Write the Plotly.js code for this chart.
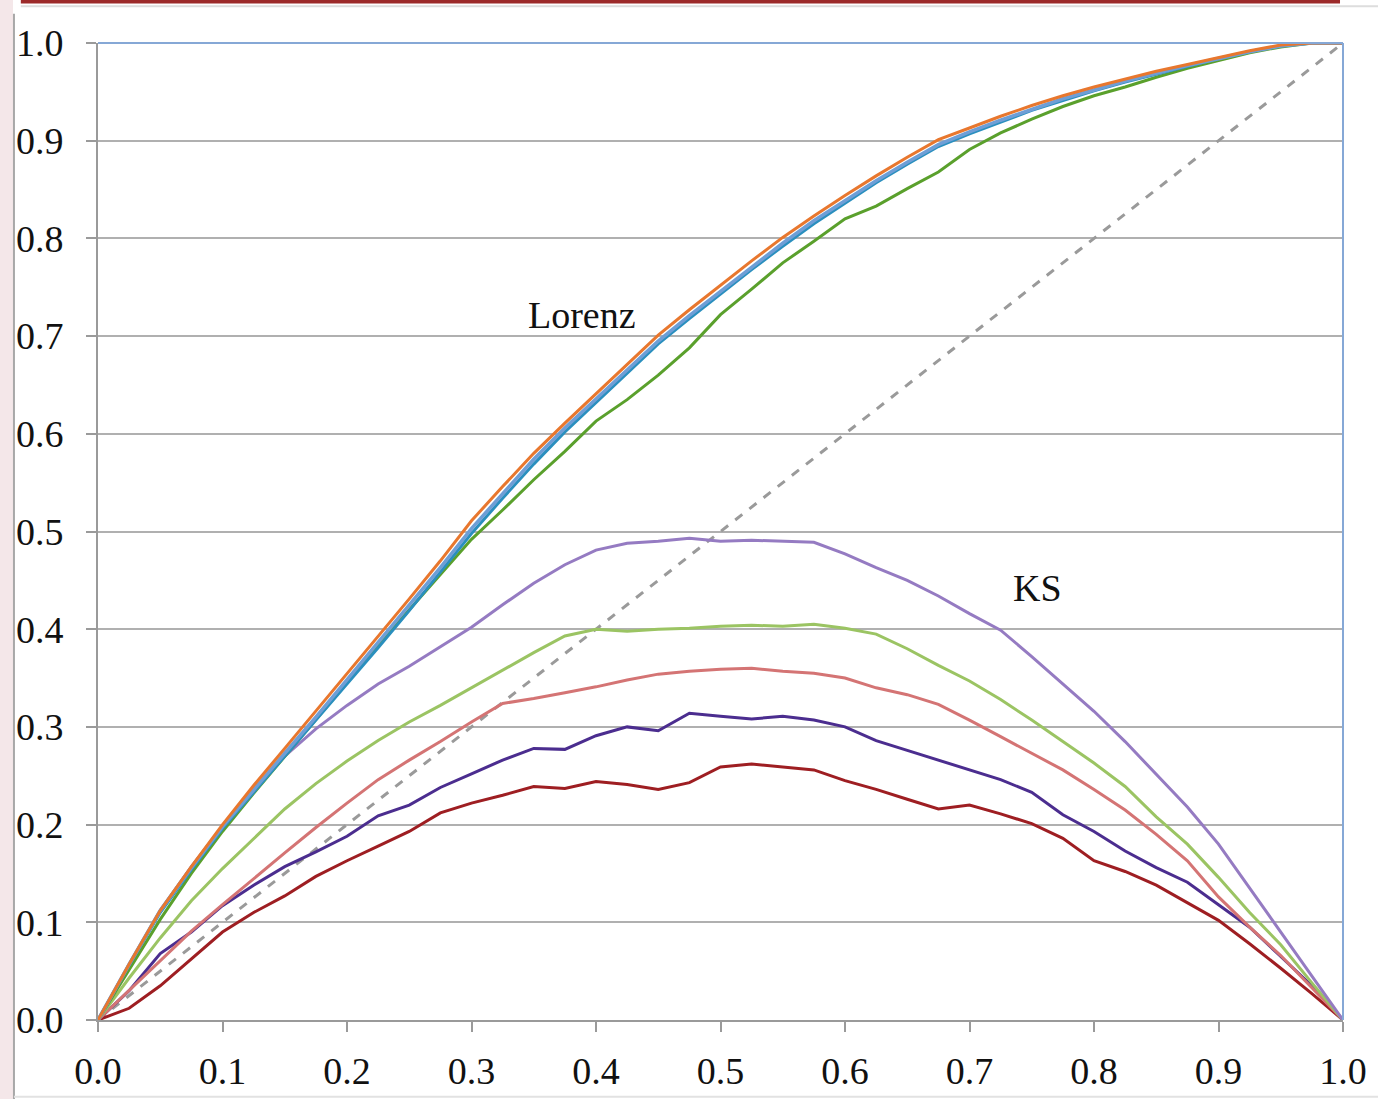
<!DOCTYPE html>
<html>
<head>
<meta charset="utf-8">
<script src="https://cdn.plot.ly/plotly-3.0.1.min.js"></script>
<style>
html,body{margin:0;padding:0;background:#fff;}
#chart{width:1378px;height:1099px;}
</style>
</head>
<body>
<div id="chart"></div>
<script>
// x grid shared by all curves
const xs = [0,0.025,0.05,0.075,0.1,0.125,0.15,0.175,0.2,0.225,0.25,0.275,0.3,0.325,0.35,0.375,0.4,0.425,0.45,0.475,0.5,0.525,0.55,0.575,0.6,0.625,0.65,0.675,0.7,0.725,0.75,0.775,0.8,0.825,0.85,0.875,0.9,0.925,0.95,0.975,1.0];

// Lorenz curves
const lorenzOrange = [0,0.057,0.112,0.157,0.200,0.240,0.278,0.316,0.355,0.393,0.431,0.470,0.511,0.546,0.580,0.611,0.641,0.671,0.701,0.727,0.752,0.777,0.801,0.823,0.844,0.864,0.883,0.901,0.913,0.925,0.936,0.946,0.955,0.963,0.971,0.978,0.985,0.992,0.998,1.0,1.0];
const lorenzBlue   = [0,0.057,0.112,0.156,0.198,0.236,0.273,0.310,0.348,0.386,0.424,0.463,0.503,0.539,0.574,0.606,0.636,0.666,0.695,0.721,0.746,0.771,0.795,0.818,0.839,0.859,0.878,0.896,0.909,0.921,0.932,0.943,0.952,0.961,0.969,0.977,0.984,0.991,0.997,1.0,1.0];
const lorenzTeal   = [0,0.056,0.110,0.154,0.196,0.233,0.269,0.306,0.344,0.381,0.419,0.458,0.498,0.534,0.569,0.602,0.632,0.663,0.692,0.718,0.743,0.768,0.792,0.815,0.836,0.857,0.876,0.894,0.907,0.919,0.931,0.941,0.951,0.960,0.968,0.976,0.984,0.991,0.997,1.0,1.0];
const lorenzGreen  = [0,0.052,0.103,0.150,0.193,0.232,0.270,0.307,0.345,0.383,0.420,0.456,0.492,0.522,0.553,0.582,0.613,0.635,0.660,0.688,0.722,0.748,0.775,0.797,0.820,0.833,0.851,0.868,0.891,0.908,0.922,0.935,0.946,0.955,0.965,0.974,0.982,0.990,0.996,1.0,1.0];

// KS curves
const ksPurple = [0,0.057,0.112,0.157,0.198,0.236,0.270,0.298,0.322,0.344,0.362,0.382,0.402,0.425,0.447,0.466,0.481,0.488,0.490,0.493,0.490,0.491,0.490,0.489,0.477,0.463,0.450,0.434,0.416,0.399,0.372,0.344,0.316,0.285,0.252,0.218,0.180,0.135,0.090,0.045,0];
const ksGreen  = [0,0.043,0.084,0.122,0.155,0.186,0.216,0.242,0.265,0.286,0.305,0.322,0.340,0.358,0.376,0.393,0.400,0.398,0.400,0.401,0.403,0.404,0.403,0.405,0.401,0.395,0.380,0.363,0.347,0.328,0.307,0.285,0.263,0.239,0.208,0.180,0.146,0.110,0.077,0.038,0];
const ksPink   = [0,0.030,0.060,0.091,0.118,0.145,0.171,0.197,0.222,0.246,0.266,0.285,0.305,0.324,0.329,0.335,0.341,0.348,0.354,0.357,0.359,0.360,0.357,0.355,0.350,0.340,0.333,0.323,0.307,0.290,0.273,0.256,0.236,0.215,0.190,0.163,0.126,0.095,0.066,0.033,0];
const ksIndigo = [0,0.030,0.068,0.090,0.117,0.138,0.157,0.172,0.188,0.209,0.220,0.238,0.252,0.266,0.278,0.277,0.291,0.300,0.296,0.314,0.311,0.308,0.311,0.307,0.300,0.286,0.276,0.266,0.256,0.246,0.233,0.210,0.193,0.173,0.156,0.141,0.118,0.095,0.065,0.035,0];
const ksRed    = [0,0.012,0.035,0.063,0.090,0.110,0.127,0.147,0.163,0.178,0.193,0.212,0.222,0.230,0.239,0.237,0.244,0.241,0.236,0.243,0.259,0.262,0.259,0.256,0.245,0.236,0.226,0.216,0.220,0.211,0.201,0.186,0.163,0.152,0.138,0.120,0.102,0.078,0.053,0.027,0];

const diagX = [0,1];
const diagY = [0,1];

const tickVals = [0,0.1,0.2,0.3,0.4,0.5,0.6,0.7,0.8,0.9,1.0];
const tickText = ["0.0","0.1","0.2","0.3","0.4","0.5","0.6","0.7","0.8","0.9","1.0"];

const labels = [{text:"Lorenz", x:0.389, y:0.722},{text:"KS", x:0.755, y:0.442}];

function line(y, color, width, dash){
  return {x: xs, y: y, type:'scatter', mode:'lines', line:{color:color, width:width, dash:dash||'solid'}, hoverinfo:'skip', showlegend:false, cliponaxis:false};
}

const traces = [
  {x: diagX, y: diagY, type:'scatter', mode:'lines', line:{color:'#9a9a9a', width:3, dash:'dash'}, showlegend:false},
  line(ksRed,    '#9E1E22', 3),
  line(ksIndigo, '#4B2D8F', 3),
  line(ksPink,   '#D47474', 3),
  line(ksGreen,  '#9BC463', 3),
  line(ksPurple, '#957BC2', 3),
  line(lorenzGreen,  '#5AA02C', 3),
  line(lorenzTeal,   '#2A8FBE', 3),
  line(lorenzBlue,   '#6E9ED6', 3.6),
  line(lorenzOrange, '#E8772E', 3)
];

const serif = 'Liberation Serif, Times New Roman, serif';

const layout = {
  width: 1378, height: 1099,
  margin: {l: 98, r: 35, t: 43, b: 79},
  paper_bgcolor: '#ffffff', plot_bgcolor: '#ffffff',
  showlegend: false,
  xaxis: {
    range: [0, 1], tickvals: tickVals, ticktext: tickText,
    showgrid: false, zeroline: false,
    showline: true, linecolor: '#9a9a9a', linewidth: 2,
    ticks: 'outside', ticklen: 10, tickwidth: 2, tickcolor: '#9a9a9a',
    ticklabelstandoff: 6,
    tickfont: {family: serif, size: 38, color: '#111'}
  },
  yaxis: {
    range: [0, 1], tickvals: tickVals, ticktext: tickText,
    showgrid: true, gridcolor: '#b0b0b0', gridwidth: 2,
    zeroline: false,
    showline: true, linecolor: '#9a9a9a', linewidth: 2,
    ticks: 'outside', ticklen: 10, tickwidth: 2, tickcolor: '#9a9a9a',
    ticklabelstandoff: 15,
    tickfont: {family: serif, size: 38, color: '#111'}
  },
  annotations: labels.map(l => ({text: l.text, x: l.x, y: l.y, xref: 'x', yref: 'y', showarrow: false, font: {family: serif, size: 38, color: '#111'}})),
  shapes: [
    // blue top and right border of the plot area
    {type:'line', xref:'paper', yref:'paper', x0:0, x1:1, y0:1, y1:1, line:{color:'#86A8D6', width:2}},
    {type:'line', xref:'paper', yref:'paper', x0:1, x1:1, y0:0, y1:1, line:{color:'#86A8D6', width:2}},
    // screenshot frame: dark red top strip, pale left strip and its grey edge
    {type:'rect', xref:'paper', yref:'paper', x0:-0.0787, x1:-0.0683, y0:-0.081, y1:1.044, fillcolor:'#F4E7E9', line:{width:0}, layer:'below'},
    {type:'line', xref:'paper', yref:'paper', x0:-0.0675, x1:-0.0675, y0:-0.081, y1:1.03, line:{color:'#a8a8a8', width:2}},
    {type:'rect', xref:'paper', yref:'paper', x0:-0.062, x1:0.9976, y0:1.0405, y1:1.045, fillcolor:'#9C2A2A', line:{width:0}},
    {type:'line', xref:'paper', yref:'paper', x0:-0.062, x1:1.03, y0:1.0375, y1:1.0375, line:{color:'#dddddd', width:2}},
    {type:'line', xref:'paper', yref:'paper', x0:-0.0675, x1:1.03, y0:-0.0785, y1:-0.0785, line:{color:'#e2e2e2', width:2}}
  ]
};

Plotly.newPlot('chart', traces, layout, {displayModeBar: false, staticPlot: true});
</script>
</body>
</html>
